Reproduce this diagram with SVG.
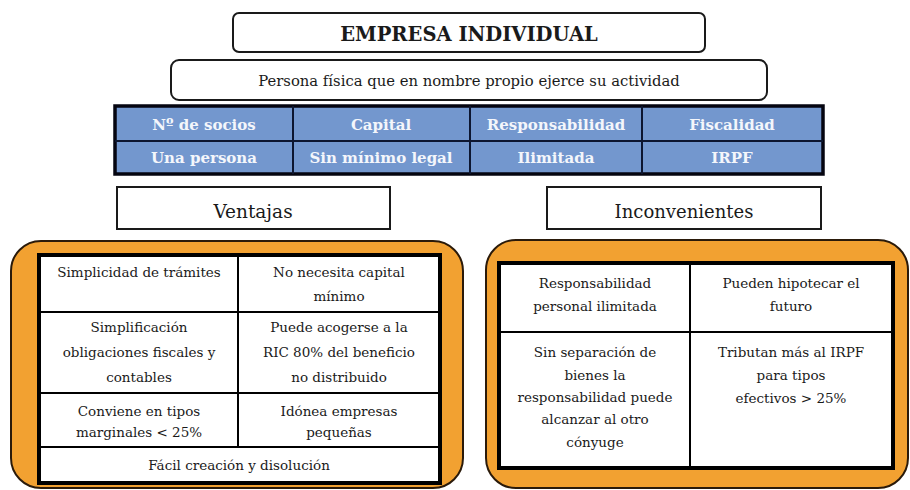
<svg xmlns="http://www.w3.org/2000/svg" width="910" height="490" viewBox="0 0 910 490">
<style>
.t{font-family:"DejaVu Serif","Liberation Serif",serif;fill:#1a1a1a;text-anchor:middle}
.c{font-size:13.5px}
.h{font-family:"DejaVu Serif","Liberation Serif",serif;font-size:15px;font-weight:bold;fill:#f4f6fb;text-anchor:middle}
.box{fill:#fff;stroke:#1a1a1a;stroke-width:2}
.panel{fill:#F2A131;stroke:#2a1a0a;stroke-width:2}
.tbl{fill:#fff;stroke:#000;stroke-width:4}
.ln{stroke:#000;stroke-width:2}
.bl{stroke:#0d1630;stroke-width:2}
</style>
<rect width="910" height="490" fill="#fff"/>
<g id="titulo">
<rect class="box" x="233" y="13" width="472" height="39" rx="6"/>
<text class="t" x="469" y="41" font-size="19.5" font-weight="bold">EMPRESA INDIVIDUAL</text>
</g>
<g id="definicion">
<rect class="box" x="171" y="60" width="596" height="40" rx="8"/>
<text class="t" x="469" y="86" font-size="14.8">Persona física que en nombre propio ejerce su actividad</text>
</g>
<g id="caracteristicas">
<rect x="115" y="106" width="708" height="68" fill="#7397CE" stroke="#050510" stroke-width="3.5"/>
<line class="bl" x1="115" y1="141" x2="823" y2="141"/>
<line class="bl" x1="293" y1="106" x2="293" y2="174"/>
<line class="bl" x1="470" y1="106" x2="470" y2="174"/>
<line class="bl" x1="642" y1="106" x2="642" y2="174"/>
<text class="h" x="204" y="130">Nº de socios</text>
<text class="h" x="381" y="130">Capital</text>
<text class="h" x="556" y="130">Responsabilidad</text>
<text class="h" x="732" y="130">Fiscalidad</text>
<text class="h" x="204" y="163">Una persona</text>
<text class="h" x="381" y="163">Sin mínimo legal</text>
<text class="h" x="556" y="163">Ilimitada</text>
<text class="h" x="732" y="163">IRPF</text>
</g>
<g id="ventajas">
<rect class="box" x="117" y="187" width="273" height="42"/>
<text class="t" x="253" y="218" font-size="18.5">Ventajas</text>
</g>
<g id="inconvenientes">
<rect class="box" x="547" y="187" width="274" height="42"/>
<text class="t" x="684" y="218" font-size="18">Inconvenientes</text>
</g>
<g id="panel-ventajas">
<rect class="panel" x="11" y="241" width="452" height="247" rx="30"/>
<rect class="tbl" x="39" y="255" width="401" height="228"/>
<line class="ln" x1="39" y1="312" x2="440" y2="312"/>
<line class="ln" x1="39" y1="393" x2="440" y2="393"/>
<line class="ln" x1="39" y1="447" x2="440" y2="447"/>
<line class="ln" x1="238" y1="255" x2="238" y2="447"/>
<text class="t c" x="139" y="277">Simplicidad de trámites</text>
<text class="t c" x="339" y="277">No necesita capital</text>
<text class="t c" x="339" y="301">mínimo</text>
<text class="t c" x="139" y="332">Simplificación</text>
<text class="t c" x="139" y="357">obligaciones fiscales y</text>
<text class="t c" x="139" y="382">contables</text>
<text class="t c" x="339" y="332">Puede acogerse a la</text>
<text class="t c" x="339" y="357">RIC 80% del beneficio</text>
<text class="t c" x="339" y="382">no distribuido</text>
<text class="t c" x="139" y="416">Conviene en tipos</text>
<text class="t c" x="139" y="437">marginales &lt; 25%</text>
<text class="t c" x="339" y="416">Idónea empresas</text>
<text class="t c" x="339" y="437">pequeñas</text>
<text class="t c" x="239" y="470">Fácil creación y disolución</text>
</g>
<g id="panel-inconvenientes">
<rect class="panel" x="486" y="240" width="422" height="248" rx="30"/>
<rect class="tbl" x="499" y="263" width="394" height="205"/>
<line class="ln" x1="499" y1="332" x2="893" y2="332"/>
<line class="ln" x1="690" y1="263" x2="690" y2="468"/>
<text class="t c" x="595" y="288">Responsabilidad</text>
<text class="t c" x="595" y="311">personal ilimitada</text>
<text class="t c" x="791" y="288">Pueden hipotecar el</text>
<text class="t c" x="791" y="311">futuro</text>
<text class="t c" x="595" y="357">Sin separación de</text>
<text class="t c" x="595" y="380">bienes la</text>
<text class="t c" x="595" y="402">responsabilidad puede</text>
<text class="t c" x="595" y="424">alcanzar al otro</text>
<text class="t c" x="595" y="447">cónyuge</text>
<text class="t c" x="791" y="357">Tributan más al IRPF</text>
<text class="t c" x="791" y="380">para tipos</text>
<text class="t c" x="791" y="403">efectivos &gt; 25%</text>
</g>
</svg>
